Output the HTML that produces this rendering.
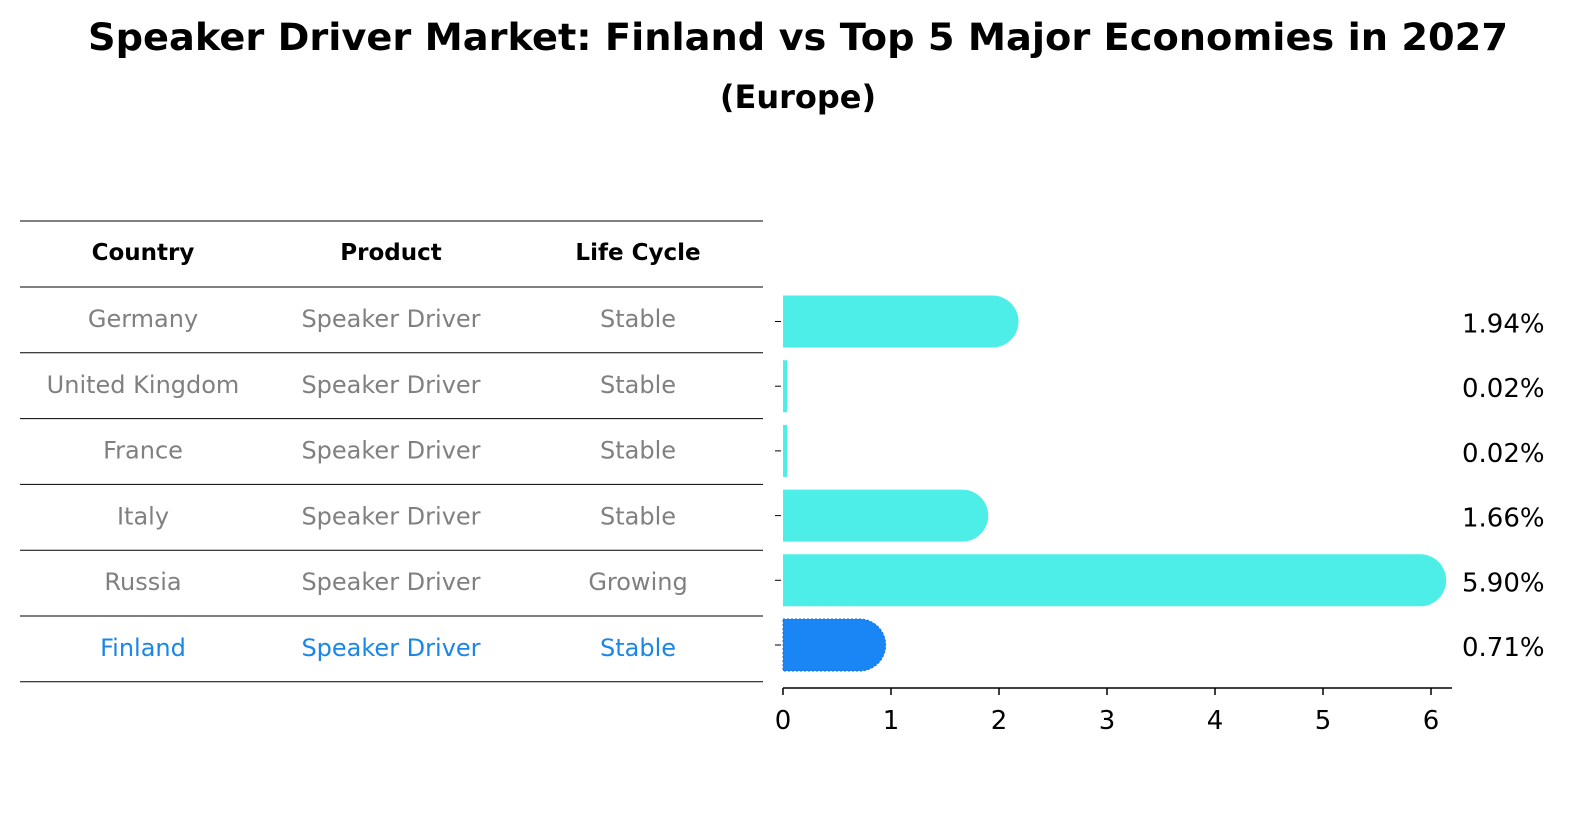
<!DOCTYPE html>
<html><head><meta charset="utf-8"><style>
body{margin:0;background:#fff;font-family:"Liberation Sans","DejaVu Sans",sans-serif;}
svg text{font-family:"DejaVu Sans","Liberation Sans",sans-serif;}
</style></head><body>
<svg id="chart" width="1586" height="823" viewBox="0 0 1586 823" xmlns="http://www.w3.org/2000/svg">
<text x="798" y="50" text-anchor="middle" font-size="37" font-weight="bold" fill="#000" textLength="1420" lengthAdjust="spacingAndGlyphs">Speaker Driver Market: Finland vs Top 5 Major Economies in 2027</text>
<text x="798" y="108" text-anchor="middle" font-size="32" font-weight="bold" fill="#000">(Europe)</text>
<g id="table"></g>
<g id="bars"></g>
</svg>
<script>
const countries=["Germany","United Kingdom","France","Italy","Russia","Finland"];
const products=["Speaker Driver","Speaker Driver","Speaker Driver","Speaker Driver","Speaker Driver","Speaker Driver"];
const lifeCycles=["Stable","Stable","Stable","Stable","Growing","Stable"];
const values=[1.94,0.02,0.02,1.66,5.90,0.71];
const valueLabels=["1.94%","0.02%","0.02%","1.66%","5.90%","0.71%"];
const ticks=[0,1,2,3,4,5,6];

const NS="http://www.w3.org/2000/svg";
function mk(tag,attrs,parent){const e=document.createElementNS(NS,tag);for(const k in attrs)e.setAttribute(k,attrs[k]);parent.appendChild(e);return e;}
const table=document.getElementById('table');
const bars=document.getElementById('bars');
const rowY=i=>287+i*65.8;
const colX=[143,391,638];
for(let i=0;i<=7;i++){
  const y=i===0?221:rowY(i-1);
  const l=mk('line',{x1:20,x2:763,y1:y,y2:y,stroke:'#000','stroke-width':1},table);
  
  
}
["Country","Product","Life Cycle"].forEach((h,j)=>{
  const t=mk('text',{x:colX[j],y:260,'text-anchor':'middle','font-size':23,'font-weight':'bold',fill:'#000'},table);
  t.textContent=h;
  
  
});
countries.forEach((c,i)=>{
  const col=i===countries.length-1?'#1a86e8':'#808080';
  [c,products[i],lifeCycles[i]].forEach((v,j)=>{
    const t=mk('text',{x:colX[j],y:rowY(i)+40,'text-anchor':'middle','font-size':24,fill:col},table);
    t.textContent=v;
    
    
  });
});
const x0=783,pxPer=108;
const xs=v=>x0+v*pxPer;
const barCy=i=>321.5+i*64.7;
const bh=52,r=26;
values.forEach((v,i)=>{
  const cy=barCy(i),top=cy-bh/2,xe=xs(v);
  const isF=i===values.length-1;
  let d;
  if(v<0.1){d=`M${x0},${top}H${xe+2}V${top+bh}H${x0}Z`;}
  else d=`M${x0},${top}H${xe}A${r},${r} 0 0 1 ${xe},${top+bh}H${x0}Z`;
  const p=mk('path',{d:d,fill:isF?'#1a86f5':'#4deee8',stroke:isF?'#1a6fd0':'none','stroke-dasharray':isF?'2,2':'none'},bars);
  
  
  const t=mk('text',{x:1462,y:cy+11,'font-size':26,fill:'#000'},bars);
  t.textContent=valueLabels[i];
  
  
  const tk=mk('line',{x1:775,x2:781,y1:cy,y2:cy,stroke:'#000','stroke-width':1},bars);
  
  
});
const ax=mk('line',{x1:x0,x2:1452,y1:688,y2:688,stroke:'#000','stroke-width':1.5},bars);


ticks.forEach(tv=>{
  const l=mk('line',{x1:xs(tv),x2:xs(tv),y1:688,y2:695,stroke:'#000','stroke-width':1.5},bars);
  
  
  const t=mk('text',{x:xs(tv),y:729,'text-anchor':'middle','font-size':26,fill:'#000'},bars);
  t.textContent=tv;
  
  
});
</script>
</body></html>
